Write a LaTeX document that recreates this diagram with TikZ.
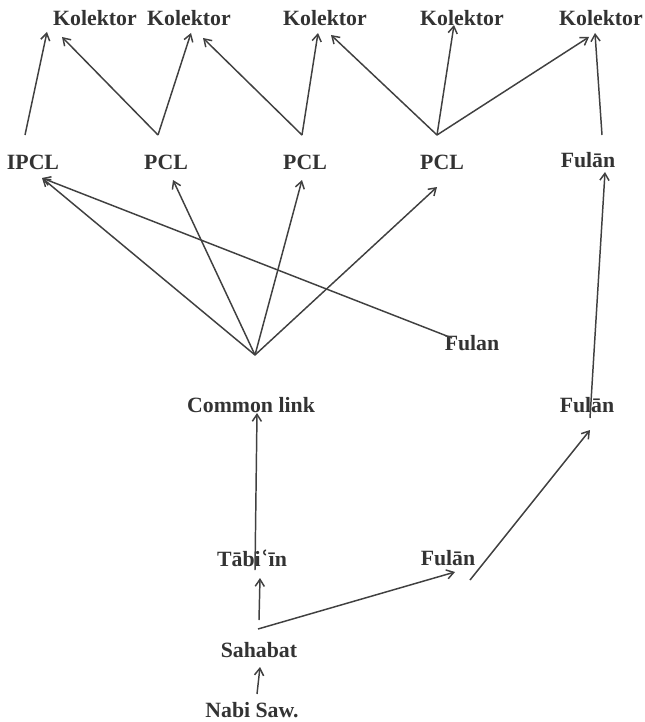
\documentclass[tikz,border=0pt]{standalone}
\usepackage{fontspec}
\setmainfont{Liberation Serif}
\newfontfamily\ainfont{DejaVu Serif}
\usetikzlibrary{arrows.meta,positioning,calc}

\begin{document}
\begin{tikzpicture}[
    x=0.025cm, y=-0.025cm,
    label/.style={inner sep=0pt, font=\fontsize{15.5}{18}\selectfont\bfseries, text=black!80},
    arrow/.style={->, >={Straight Barb[length=5pt,width=6.5pt]}, line width=1.05pt, draw=black!75}
]
\useasboundingbox (0,0) rectangle (644,722);

% kolektor
\node[label] (k1) at (95,18) {Kolektor};
\node[label] (k2) at (189,18) {Kolektor};
\node[label] (k3) at (325,18) {Kolektor};
\node[label] (k4) at (462,18) {Kolektor};
\node[label] (k5) at (601,18) {Kolektor};

% (I)PCL
\node[label] (ipcl) at (33,162) {IPCL};
\node[label] (pcl1) at (166,162) {PCL};
\node[label] (pcl2) at (305,162) {PCL};
\node[label] (pcl3) at (442,162) {PCL};
\node[label] (fulanA) at (588,160) {Fulān};

% common link
\coordinate (apex) at (255,355);
\node[label] (fulan) at (472,343) {Fulan};
\node[label] (cl) at (251,405) {Common link};
\node[label] (fulanB) at (587,405) {Fulān};

% jalur bawah
\node[label] (tabiin) at (252,558) {Tābi{\ainfont ʿ}īn};
\node[label] (fulanC) at (448,558) {Fulān};
\node[label] (sahabat) at (259,650) {Sahabat};
\node[label] (nabi) at (252,710) {Nabi Saw.};

% panah ke kolektor
\draw[arrow] ($(ipcl)+(-8,-27)$) -- ($(k1)+(-48,14)$);
\draw[arrow] ($(pcl1)+(-8,-27)$) -- ($(k1)+(-33,19)$);
\draw[arrow] ($(pcl1)+(-8,-27)$) -- ($(k2)+(2,15)$);
\draw[arrow] ($(pcl2)+(-3,-27)$) -- ($(k2)+(14,20)$);
\draw[arrow] ($(pcl2)+(-3,-27)$) -- ($(k3)+(-7,15)$);
\draw[arrow] ($(pcl3)+(-5,-27)$) -- ($(k3)+(6,17)$);
\draw[arrow] ($(pcl3)+(-5,-27)$) -- ($(k4)+(-8,7)$);
\draw[arrow] ($(pcl3)+(-5,-27)$) -- ($(k5)+(-12,19)$);
\draw[arrow] ($(fulanA)+(14,-25)$) -- ($(k5)+(-6,15)$);

% panah dari common link
\draw[arrow] (apex) -- ($(ipcl)+(9,16)$);
\draw[arrow] (apex) -- ($(pcl1)+(7,18)$);
\draw[arrow] (apex) -- ($(pcl2)+(-3,18)$);
\draw[arrow] (apex) -- ($(pcl3)+(-5,25)$);
\draw[arrow] ($(fulan)+(-20,-5)$) -- ($(ipcl)+(9,16)$);

% jalur sanad
\draw[arrow] ($(tabiin)+(3,12)$) -- ($(cl)+(6,8)$);
\draw[arrow] ($(sahabat)+(0,-30)$) -- ($(tabiin)+(8,20)$);
\draw[arrow] ($(sahabat)+(-1,-21)$) -- ($(fulanC)+(7,14)$);
\draw[arrow] ($(fulanC)+(22,22)$) -- ($(fulanB)+(3,25)$);
\draw[arrow] ($(fulanB)+(3,13)$) -- ($(fulanA)+(17,12)$);
\draw[arrow] ($(nabi)+(5,-16)$) -- ($(sahabat)+(1,17)$);

\end{tikzpicture}
\end{document}
